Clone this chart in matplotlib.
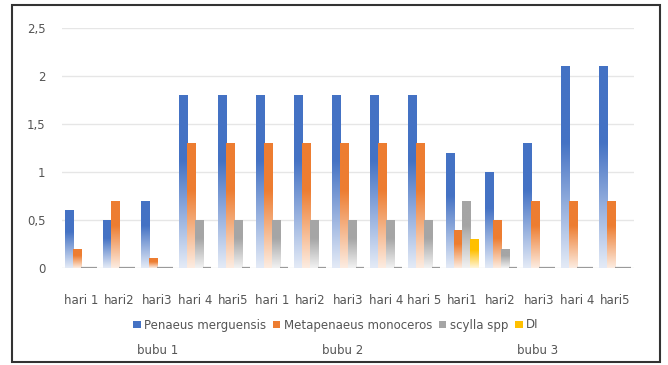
import numpy as np
import matplotlib
matplotlib.use("Agg")
import matplotlib.pyplot as plt
from matplotlib.patches import Patch, Rectangle
from matplotlib.colors import to_rgb

days = ["hari 1", "hari2", "hari3", "hari 4", "hari5",
        "hari 1", "hari2", "hari3", "hari 4", "hari 5",
        "hari1", "hari2", "hari3", "hari 4", "hari5"]
groups = ["bubu 1", "bubu 2", "bubu 3"]
series_names = ["Penaeus merguensis", "Metapenaeus monoceros", "scylla spp", "DI"]
penaeus = [0.6, 0.5, 0.7, 1.8, 1.8, 1.8, 1.8, 1.8, 1.8, 1.8, 1.2, 1.0, 1.3, 2.1, 2.1]
metapenaeus = [0.2, 0.7, 0.1, 1.3, 1.3, 1.3, 1.3, 1.3, 1.3, 1.3, 0.4, 0.5, 0.7, 0.7, 0.7]
scylla = [0, 0, 0, 0.5, 0.5, 0.5, 0.5, 0.5, 0.5, 0.5, 0.7, 0.2, 0, 0, 0]
di = [0, 0, 0, 0, 0, 0, 0, 0, 0, 0, 0.3, 0, 0, 0, 0]
yticks = [0, 0.5, 1, 1.5, 2, 2.5]
ytick_labels = ["0", "0,5", "1", "1,5", "2", "2,5"]

colors = ["#4472C4", "#ED7D31", "#A5A5A5", "#FFC000"]
series = [penaeus, metapenaeus, scylla, di]

W, H = 668, 365
fig = plt.figure(figsize=(W / 100, H / 100), dpi=100)
ax = fig.add_axes([62 / W, 1 - 268 / H, (634 - 62) / W, (268 - 28) / H])

x = np.arange(len(days))
bw = 0.21
for i, (vals, c) in enumerate(zip(series, colors)):
    pos = x + (i - 1.5) * bw
    lw = [1.6 if v == 0 else 0 for v in vals]
    bars = ax.bar(pos, vals, width=bw, facecolor="none", edgecolor="#9a9a9a",
                  linewidth=lw, zorder=3)
    rgb = np.array(to_rgb(c))
    grad = np.linspace(0, 1, 64)[:, None]  # 0 bottom -> 1 top
    mix = 0.15 + 0.85 * np.clip(grad * 1.6, 0, 1)
    img = (1 - mix)[..., None] * np.ones(3) + mix[..., None] * rgb
    img = np.repeat(img, 2, axis=1)
    for b, v in zip(bars, vals):
        if v <= 0:
            continue
        x0 = b.get_x()
        im = ax.imshow(img, extent=[x0, x0 + bw, 0, v], origin="lower",
                       aspect="auto", zorder=3, interpolation="bilinear")
        clip = Rectangle((x0, 0), bw, v, transform=ax.transData)
        im.set_clip_path(clip)

ax.set_xlim(-0.5, len(days) - 0.5)
ax.set_ylim(0, 2.5)
ax.set_yticks(yticks)
ax.set_yticklabels(ytick_labels)
ax.set_xticks(x)
ax.set_xticklabels(days)
ax.grid(axis="y", color="#e6e6e6", linewidth=1, zorder=0)
for s in ax.spines.values():
    s.set_visible(False)
ax.tick_params(axis="both", length=0, labelsize=8.5, colors="#555555")
ax.tick_params(axis="x", pad=19)
ax.tick_params(axis="y", pad=12)

handles = [Patch(facecolor=c, edgecolor="none") for c in colors]
fig.legend(handles, series_names, loc="center", bbox_to_anchor=(336 / W, 1 - 325 / H),
           ncol=4, frameon=False, fontsize=8.5, handlelength=0.6, handleheight=0.6,
           handletextpad=0.3, columnspacing=0.6, labelcolor="#555555")

fig.text(137 / W, 1 - 350 / H, groups[0], fontsize=8.5, color="#555555", va="center")
fig.text(322 / W, 1 - 350 / H, groups[1], fontsize=8.5, color="#555555", va="center")
fig.text(517 / W, 1 - 350 / H, groups[2], fontsize=8.5, color="#555555", va="center")

fig.patches.append(Rectangle((12 / W, 1 - 362 / H), (660 - 12) / W, (362 - 5) / H,
                             transform=fig.transFigure, fill=False,
                             edgecolor="#333333", linewidth=1.5))

fig.savefig("out.png", dpi=100)
